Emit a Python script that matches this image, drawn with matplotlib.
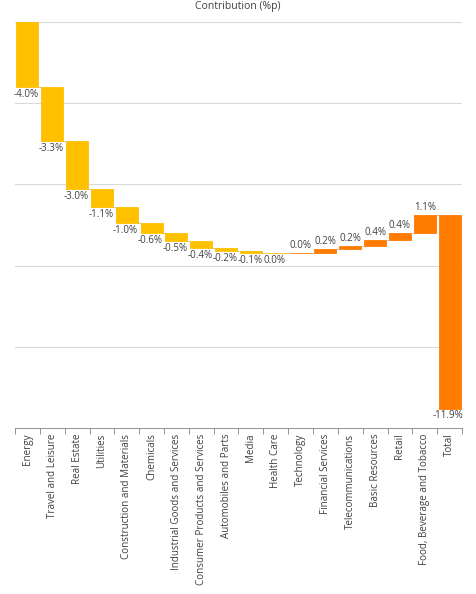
import numpy as np
import matplotlib.pyplot as plt

categories = ["Energy", "Travel and Leisure", "Real Estate", "Utilities",
              "Construction and Materials", "Chemicals", "Industrial Goods and Services",
              "Consumer Products and Services", "Automobiles and Parts", "Media",
              "Health Care", "Technology", "Financial Services", "Telecommunications",
              "Basic Resources", "Retail", "Food, Beverage and Tobacco", "Total"]
values = [-4.0, -3.3, -3.0, -1.1, -1.0, -0.6, -0.5, -0.4, -0.2, -0.1,
          -0.05, 0.05, 0.2, 0.2, 0.4, 0.4, 1.1, -11.9]
labels = ["-4.0%", "-3.3%", "-3.0%", "-1.1%", "-1.0%", "-0.6%", "-0.5%", "-0.4%",
          "-0.2%", "-0.1%", "0.0%", "0.0%", "0.2%", "0.2%", "0.4%", "0.4%", "1.1%", "-11.9%"]

plt.rcParams['font.family'] = ['Open Sans', 'DejaVu Sans']

gold = '#FFC000'
orange = '#FF7C00'
txt = '#404040'

vals = np.array(values)
ends = np.cumsum(vals)
starts = ends - vals
x = np.arange(len(categories))
colors = [gold if v < 0 else orange for v in vals]
colors[-1] = orange

fig = plt.figure(figsize=(4.76, 5.94), dpi=100)
ax = fig.add_axes([15 / 476, 1 - 428 / 594, 447 / 476, 406 / 594])

ax.bar(x, vals, bottom=starts, width=0.88, color=colors, edgecolor=colors,
       linewidth=0.6, zorder=3)

# connectors
for i in range(len(x) - 1):
    ax.plot([x[i] + 0.44, x[i + 1] - 0.44], [ends[i], ends[i]], color='#BFBFBF',
            lw=0.6, zorder=2)

for i, (v, lab) in enumerate(zip(vals, labels)):
    if v < 0:
        ax.text(x[i] - 0.05, ends[i] - 0.12, lab, ha='center', va='top', fontsize=7,
                color=txt, zorder=4)
    else:
        ax.text(x[i], ends[i] + 0.12, lab, ha='center', va='bottom', fontsize=7,
                color=txt, zorder=4)

ax.set_xlim(-0.5, len(x) - 0.5)
ax.set_ylim(-25, 0)
ax.set_yticks([0, -5, -10, -15, -20])
ax.yaxis.grid(True, color='#D9D9D9', lw=0.8, zorder=0)
ax.tick_params(axis='y', length=0, labelleft=False)

ax.set_xticks(x)
ax.set_xticklabels(categories, rotation=90, fontsize=7.1, color=txt)
ax.set_xticks(np.arange(len(x) + 1) - 0.5, minor=True)
ax.tick_params(axis='x', which='major', length=0, pad=4)
ax.tick_params(axis='x', which='minor', length=4, color='#808080', width=0.6)

for s in ['top', 'right', 'left']:
    ax.spines[s].set_visible(False)
ax.spines['bottom'].set_color('#808080')
ax.spines['bottom'].set_linewidth(0.6)

fig.text(238 / 476, 1 - 6 / 594, "Contribution (%p)", ha='center', va='center',
         fontsize=7.5, color=txt)

fig.savefig('out.png', dpi=100)
